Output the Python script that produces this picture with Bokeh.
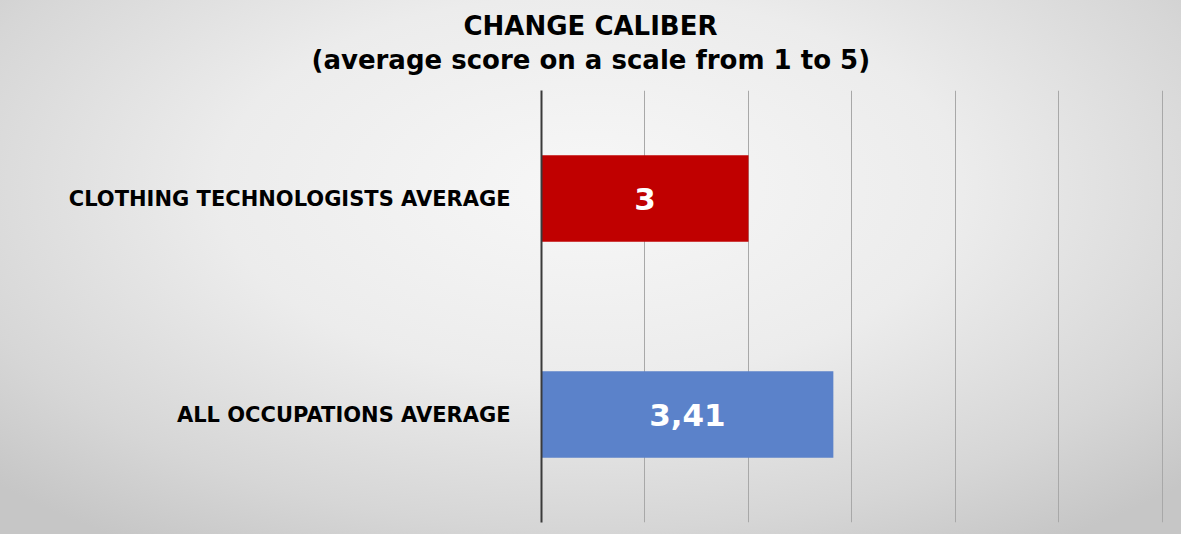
from bokeh.plotting import figure
from bokeh.models import FactorRange, Range1d, SingleIntervalTicker, Title, ColumnDataSource
from bokeh.core.properties import value
from bokeh.embed import file_html
from bokeh.resources import INLINE

# ---- data ----
categories = ["ALL OCCUPATIONS AVERAGE", "CLOTHING TECHNOLOGISTS AVERAGE"]
scores = [3.41, 3.0]
bar_colors = ["#5B82CA", "#C00000"]
x_min, x_max, x_step = 2.0, 5.0, 0.5
title_line1 = "CHANGE CALIBER"
title_line2 = "(average score on a scale from 1 to 5)"

labels = [("%g" % v).replace(".", ",") for v in scores]
mids = [(x_min + v) / 2 for v in scores]

src = ColumnDataSource(dict(cat=categories, score=scores, color=bar_colors,
                            label=labels, mid=mids))

FONT = "DejaVu Sans"

p = figure(width=1181, height=534, output_backend="svg", toolbar_location=None,
           y_range=FactorRange(factors=categories, range_padding=0),
           x_range=Range1d(x_min, x_max + 0.005),
           min_border_left=541, min_border_right=18, min_border_top=90,
           min_border_bottom=12)

p.styles = {"background": "radial-gradient(ellipse 70% 80% at 50% 35%, #f7f7f7 0%, #ececec 45%, #d6d6d6 80%, #c6c6c6 100%)"}
p.border_fill_color = None
p.background_fill_color = None
p.outline_line_color = None

p.hbar(y="cat", left=x_min, right="score", height=0.4, color="color",
       line_color=None, source=src)

p.text(x="mid", y="cat", text="label", source=src, text_color="white",
       text_font=value(FONT), text_font_style="bold", text_font_size="31px",
       text_align="center", text_baseline="middle")

# axes
p.xaxis.visible = False
p.xaxis.ticker = SingleIntervalTicker(interval=x_step)
p.xgrid.ticker = SingleIntervalTicker(interval=x_step)
p.xgrid.grid_line_color = "#a8a8a8"
p.xgrid.grid_line_width = 1
p.ygrid.grid_line_color = None

ya = p.yaxis[0]
ya.axis_line_color = "#3a3a3a"
ya.axis_line_width = 2
ya.major_tick_line_color = None
ya.minor_tick_line_color = None
ya.major_tick_out = 0
ya.major_tick_in = 0
ya.major_label_standoff = 31
ya.major_label_text_font = FONT
ya.major_label_text_font_style = "bold"
ya.major_label_text_font_size = "21px"
ya.major_label_text_color = "#000000"

# two-line title (line nearest the plot added first)
for txt, off, so in [(title_line2, -230, 32), (title_line1, -78, -29)]:
    t = Title(text=txt, align="left", offset=off, text_font=FONT,
              text_font_style="bold", text_font_size="26px",
              text_color="#000000", standoff=0)
    try:
        t.standoff = so
    except Exception:
        t.standoff = 0
    p.add_layout(t, "above")

open("out.html", "w").write(file_html(p, INLINE))
